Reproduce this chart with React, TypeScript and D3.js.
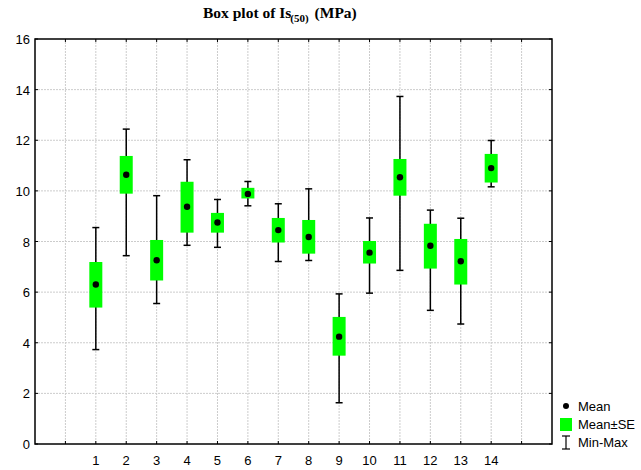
import React from "react";
import * as d3 from "d3";

const categories = [1, 2, 3, 4, 5, 6, 7, 8, 9, 10, 11, 12, 13, 14];
const means = [6.3, 10.64, 7.26, 9.37, 8.75, 9.88, 8.45, 8.18, 4.24, 7.56, 10.54, 7.83, 7.22, 10.9];
const seHigh = [7.19, 11.38, 8.06, 10.36, 9.13, 10.12, 8.93, 8.85, 5.02, 8.02, 11.26, 8.7, 8.1, 11.46];
const seLow = [5.39, 9.89, 6.46, 8.35, 8.35, 9.7, 7.96, 7.52, 3.49, 7.13, 9.81, 6.93, 6.3, 10.33];
const maxVals = [8.55, 12.44, 9.81, 11.23, 9.66, 10.37, 9.49, 10.08, 5.93, 8.93, 13.73, 9.24, 8.92, 11.99];
const minVals = [3.73, 7.44, 5.55, 7.85, 7.77, 9.41, 7.21, 7.25, 1.63, 5.96, 6.86, 5.28, 4.74, 10.16];
const yTicks = [0, 2, 4, 6, 8, 10, 12, 14, 16];
const xGrid = d3.range(0, 16);

export default function App() {
  const left = 35, right = 552, top = 39, bottom = 444;
  const x = d3.scaleLinear().domain([-1, 16]).range([left, right]);
  const y = d3.scaleLinear().domain([0, 16]).range([bottom, top]);
  const font = "'Liberation Sans', Arial, sans-serif";
  const boxW = 13, capW = 7;
  return (
    <svg width={641} height={470} style={{ position: "absolute", left: 0, top: 0, background: "#fff" }}>
      <text x={203} y={18} textAnchor="start" fontFamily="'Liberation Serif', 'Times New Roman', serif" fontWeight="bold" fontSize={15.5}>
        Box plot of Is<tspan fontSize={11} dy={4} dx={-1}>(50)</tspan><tspan dy={-4} dx={6}>(MPa)</tspan>
      </text>
      {yTicks.slice(1, -1).map((t) => (
        <line key={"h" + t} x1={left} x2={right} y1={y(t)} y2={y(t)} stroke="#cccccc" strokeDasharray="2,1" />
      ))}
      {xGrid.map((c) => (
        <line key={"v" + c} x1={x(c)} x2={x(c)} y1={top} y2={bottom} stroke="#cccccc" strokeDasharray="2,1" />
      ))}
      {xGrid.map((c) => (
        <g key={"t" + c}>
          <line x1={x(c)} x2={x(c)} y1={bottom} y2={bottom - 3} stroke="#000" />
          <line x1={x(c)} x2={x(c)} y1={top} y2={top + 3} stroke="#000" />
        </g>
      ))}
      {yTicks.map((t) => (
        <g key={"y" + t}>
          <line x1={left} x2={left + 3} y1={y(t)} y2={y(t)} stroke="#000" />
          <line x1={right} x2={right - 3} y1={y(t)} y2={y(t)} stroke="#000" />
          <text x={left - 5} y={y(t) + 5} textAnchor="end" fontFamily={font} fontSize={13}>{t}</text>
        </g>
      ))}
      {categories.map((c) => (
        <text key={"xl" + c} x={x(c)} y={bottom + 21} textAnchor="middle" fontFamily={font} fontSize={13}>{c}</text>
      ))}
      <rect x={left} y={top} width={right - left} height={bottom - top} fill="none" stroke="#000" strokeWidth={1.5} />
      {categories.map((c, i) => {
        const cx = x(c);
        return (
          <g key={"b" + c}>
            <line x1={cx} x2={cx} y1={y(maxVals[i])} y2={y(minVals[i])} stroke="#000" strokeWidth={1.5} />
            <line x1={cx - capW / 2} x2={cx + capW / 2} y1={y(maxVals[i])} y2={y(maxVals[i])} stroke="#000" strokeWidth={1.5} />
            <line x1={cx - capW / 2} x2={cx + capW / 2} y1={y(minVals[i])} y2={y(minVals[i])} stroke="#000" strokeWidth={1.5} />
            <rect x={cx - boxW / 2} y={y(seHigh[i])} width={boxW} height={y(seLow[i]) - y(seHigh[i])} fill="#00ff00" />
            <circle cx={cx} cy={y(means[i])} r={3.2} fill="#000" />
          </g>
        );
      })}
      <g fontFamily={font} fontSize={13}>
        <circle cx={566} cy={406} r={3} fill="#000" />
        <text x={578} y={411}>Mean</text>
        <rect x={560} y={418} width={12} height={13} fill="#00ff00" />
        <text x={578} y={429}>Mean±SE</text>
        <line x1={566} x2={566} y1={436} y2={449} stroke="#000" strokeWidth={1.2} />
        <line x1={562} x2={570} y1={436} y2={436} stroke="#000" strokeWidth={1.2} />
        <line x1={562} x2={570} y1={449} y2={449} stroke="#000" strokeWidth={1.2} />
        <text x={578} y={447}>Min-Max</text>
      </g>
    </svg>
  );
}
